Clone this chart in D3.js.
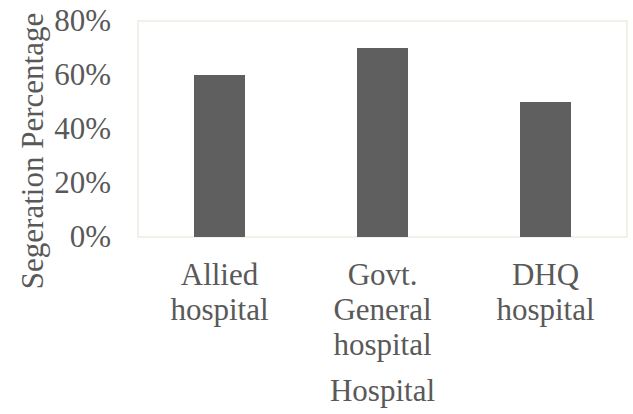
<!DOCTYPE html>
<html><head><meta charset="utf-8">
<script src="https://cdn.jsdelivr.net/npm/d3@7"></script>
<style>html,body{margin:0;padding:0;background:#fff;}</style>
</head><body>
<svg id="chart" width="633" height="414"></svg>
<script>
const categories = [["Allied","hospital"],["Govt.","General","hospital"],["DHQ","hospital"]];
const categoryNames = ["Allied hospital","Govt. General hospital","DHQ hospital"];
const values = [0.60, 0.70, 0.50];
const yTicks = [0, 0.2, 0.4, 0.6, 0.8];
const yTitle = "Segeration Percentage";
const xTitle = "Hospital";

const svg = d3.select("#chart");
const FONT = '"Liberation Serif"';
const textColor = "#595959";
const plot = {left:138, top:21, right:627, bottom:237};

const x = d3.scaleBand().domain(categoryNames).range([plot.left, plot.right]).paddingInner(0.687).paddingOuter(0.3435);
const y = d3.scaleLinear().domain([0, 0.8]).range([plot.bottom, plot.top]);

svg.append("rect").attr("x", plot.left).attr("y", plot.top)
  .attr("width", plot.right-plot.left).attr("height", plot.bottom-plot.top)
  .attr("fill", "#fff").attr("stroke", "#eeece1").attr("stroke-width", 1.5);

svg.selectAll("rect.bar").data(values).enter().append("rect").attr("class","bar")
  .attr("x", (d,i)=>x(categoryNames[i]))
  .attr("width", x.bandwidth())
  .attr("y", d=>y(d))
  .attr("height", d=>plot.bottom - y(d))
  .attr("fill", "#5f5f5f");

// y axis
const yAxis = d3.axisLeft(y).tickValues(yTicks).tickFormat(d3.format(".0%")).tickSize(0).tickPadding(27);
const gy = svg.append("g").attr("transform", `translate(${plot.left},0)`).call(yAxis);
gy.select(".domain").remove();
gy.selectAll("text").style("font-family", FONT).style("font-size", "31px").attr("fill", textColor).attr("dy", "0.3em");

// x axis labels
const gx = svg.append("g");
categories.forEach((lines, i) => {
  const cx = x(categoryNames[i]) + x.bandwidth()/2;
  const t = gx.append("text").attr("text-anchor","middle")
    .style("font-family", FONT).style("font-size", "31px").attr("fill", textColor);
  lines.forEach((ln, j) => {
    t.append("tspan").attr("x", cx).attr("y", 285 + j*35).text(ln);
  });
});

svg.append("text").attr("x", (plot.left+plot.right)/2).attr("y", 401).attr("text-anchor","middle")
  .style("font-family", FONT).style("font-size", "31px").attr("fill", textColor).text(xTitle);

svg.append("text").attr("transform", "translate(43,151) rotate(-90)").attr("text-anchor","middle")
  .style("font-family", FONT).style("font-size", "31px").attr("fill", textColor).text(yTitle);
</script>
</body></html>
